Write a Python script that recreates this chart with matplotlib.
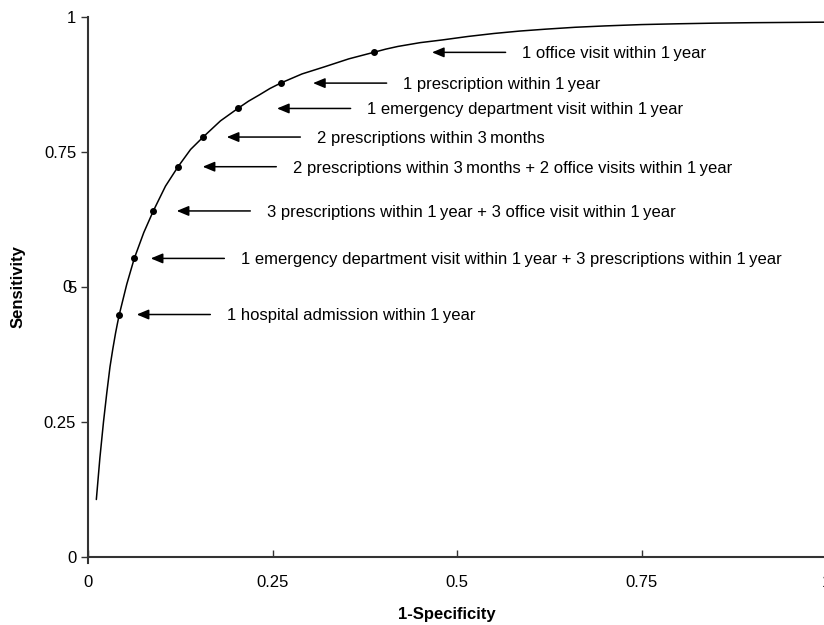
import matplotlib
matplotlib.use("Agg")
import matplotlib.pyplot as plt

plt.rcParams['font.family'] = ['Liberation Sans', 'DejaVu Sans']

# Fitted ROC curve
curve_fpr = [0.0113, 0.0161, 0.021, 0.0254, 0.0298, 0.0336, 0.0374, 0.0399, 0.0424,
             0.0525, 0.0627, 0.0756, 0.0885, 0.105, 0.122, 0.139, 0.156, 0.1795,
             0.203, 0.2175, 0.232, 0.2465, 0.261, 0.29, 0.32, 0.3535, 0.387,
             0.4035, 0.42, 0.45, 0.48, 0.515, 0.55, 0.585, 0.62, 0.66, 0.70,
             0.75, 0.80, 0.85, 0.90, 0.95, 1.0]
curve_sens = [0.106, 0.183, 0.25, 0.303, 0.352, 0.385, 0.415, 0.4325, 0.449,
              0.505, 0.553, 0.601, 0.641, 0.687, 0.723, 0.755, 0.778, 0.808,
              0.831, 0.8445, 0.856, 0.868, 0.878, 0.895, 0.908, 0.923, 0.935,
              0.941, 0.946, 0.953, 0.958, 0.9645, 0.970, 0.9745, 0.978, 0.9815, 0.984,
              0.9865, 0.988, 0.9892, 0.990, 0.9905, 0.991]

# Case-definition points (thin spaces as in the original typesetting)
labels = [
    "1 hospital admission within 1\u2009year",
    "1 emergency department visit within 1\u2009year + 3 prescriptions within 1\u2009year",
    "3 prescriptions within 1\u2009year + 3 office visit within 1\u2009year",
    "2 prescriptions within 3\u2009months + 2 office visits within 1\u2009year",
    "2 prescriptions within 3\u2009months",
    "1 emergency department visit within 1\u2009year",
    "1 prescription within 1\u2009year",
    "1 office visit within 1\u2009year",
]
point_fpr = [0.0424, 0.0627, 0.0885, 0.122, 0.156, 0.203, 0.261, 0.387]
point_sens = [0.449, 0.553, 0.641, 0.723, 0.778, 0.831, 0.878, 0.935]
# x position of each arrow head (annotation layout)
arrow_head_x = [0.066, 0.085, 0.1202, 0.1554, 0.188, 0.2561, 0.3049, 0.4661]

x_ticks = [0, 0.25, 0.5, 0.75, 1]
x_ticklabels = ["0", "0.25", "0.5", "0.75", "1"]
y_ticks = [0, 0.25, 0.5, 0.75, 1]
y_ticklabels = ["0", "0.25", "5", "0.75", "1"]

fig = plt.figure(figsize=(8.24, 6.25), dpi=100)
ax = fig.add_axes([88/824, 1-556.7/625, 738/824, 539.4/625])

ax.plot(curve_fpr, curve_sens, color='black', lw=1.1,
        solid_capstyle='round', solid_joinstyle='round')
ax.scatter(point_fpr, point_sens, s=16, color='black', zorder=3)

for lab, hx, y in zip(labels, arrow_head_x, point_sens):
    ax.annotate('', xy=(hx, y), xytext=(53, 0), textcoords='offset points',
                arrowprops=dict(arrowstyle='-|>,head_length=0.6,head_width=0.25',
                                color='black', lw=1.1, shrinkA=0, shrinkB=0,
                                mutation_scale=12))
    ax.annotate(lab, xy=(hx, y), xytext=(65, -4.3), textcoords='offset points',
                ha='left', va='baseline', fontsize=12, color='black')

ax.set_xlim(0, 1)
ax.set_ylim(0, 1)
ax.set_xticks(x_ticks)
ax.set_xticklabels(x_ticklabels)
ax.set_yticks(y_ticks)
ax.set_yticklabels(y_ticklabels)

# overlapping "0" of the 0.5 label, as printed in the original
ax.annotate("0", xy=(0, 0.5), xycoords=('axes fraction', 'data'),
            xytext=(-11.5, 0), textcoords='offset points',
            ha='right', va='center', fontsize=12)

for side in ['top', 'right']:
    ax.spines[side].set_visible(False)
for side in ['left', 'bottom']:
    ax.spines[side].set_color('#333333')
    ax.spines[side].set_linewidth(1.5)
ax.spines['left'].set_bounds(-0.012, 1)

ax.tick_params(axis='y', direction='out', length=5, width=1, color='#333333',
               pad=3.5, labelsize=12)
ax.tick_params(axis='x', direction='in', length=5, width=1, color='#333333',
               pad=13, labelsize=12)

ax.set_xlabel("1-Specificity", fontsize=12, fontweight='bold')
ax.set_ylabel("Sensitivity", fontsize=12, fontweight='bold')
ax.xaxis.set_label_coords((447-88)/738, (556.7-615)/539.4)
ax.yaxis.set_label_coords((18-88)/738, 0.5)
ax.xaxis.label.set_va('center')
ax.yaxis.label.set_va('center')

fig.savefig("out.png", dpi=100)
